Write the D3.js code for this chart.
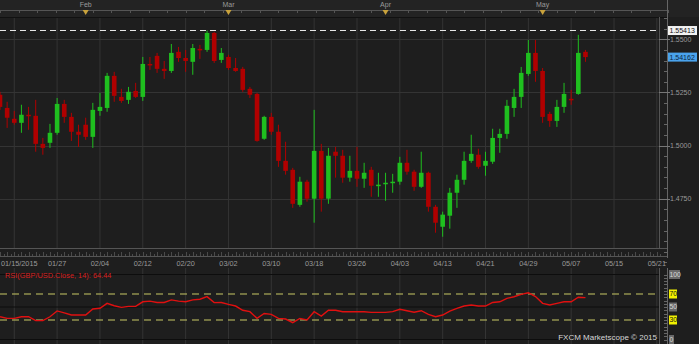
<!DOCTYPE html>
<html>
<head>
<meta charset="utf-8">
<script src="https://cdn.jsdelivr.net/npm/d3@7"></script>
<style>
  html, body { margin: 0; padding: 0; background: #1e1e1e; }
  svg { display: block; }
</style>
</head>
<body>
<svg id="chart"></svg>
<script>
// GBP/USD daily candles, 01/13/2015 - 05/11/2015
const opens = [1.5239,1.5177,1.5126,1.5107,1.5145,1.5140,1.5008,1.5013,1.5060,1.5196,
  1.5135,1.5065,1.5098,1.5041,1.5163,1.5177,1.5328,1.5229,1.5215,1.5257,
  1.5229,1.5384,1.5422,1.5361,1.5351,1.5441,1.5412,1.5394,1.5455,1.5450,
  1.5530,1.5403,1.5417,1.5365,1.5361,1.5267,1.5243,1.5032,1.5135,1.5065,
  1.4928,1.4886,1.4721,1.4830,1.4750,1.4975,1.4750,1.4971,1.4952,1.4849,
  1.4881,1.4844,1.4886,1.4811,1.4820,1.4825,1.4830,1.4919,1.4877,1.4806,
  1.4872,1.4712,1.4618,1.4670,1.4778,1.4839,1.4928,1.4957,1.4905,1.4924,
  1.5036,1.5055,1.5177,1.5229,1.5337,1.5436,1.5351,1.5149,1.5116,1.5182,
  1.5220,1.5243,1.5441];
const highs = [1.5253,1.5206,1.5163,1.5192,1.5182,1.5215,1.5036,1.5102,1.5224,1.5215,
  1.5154,1.5098,1.5131,1.5201,1.5248,1.5342,1.5347,1.5267,1.5276,1.5295,
  1.5417,1.5417,1.5436,1.5398,1.5478,1.5464,1.5450,1.5478,1.5474,1.5541,
  1.5535,1.5459,1.5427,1.5412,1.5370,1.5276,1.5248,1.5140,1.5154,1.5098,
  1.5018,1.4895,1.4853,1.4839,1.5168,1.5008,1.4989,1.4994,1.4980,1.4952,
  1.4994,1.4919,1.4900,1.4872,1.4872,1.4867,1.4947,1.4980,1.4886,1.4971,
  1.4877,1.4721,1.4689,1.4801,1.4863,1.4971,1.5051,1.4985,1.4971,1.5079,
  1.5079,1.5215,1.5267,1.5370,1.5497,1.5497,1.5365,1.5159,1.5215,1.5295,
  1.5262,1.5521,1.5450];
const lows = [1.5168,1.5083,1.5098,1.5060,1.5074,1.4971,1.4957,1.4989,1.5051,1.5107,
  1.5022,1.4994,1.5027,1.4989,1.5140,1.5159,1.5206,1.5201,1.5196,1.5224,
  1.5210,1.5356,1.5342,1.5314,1.5342,1.5394,1.5347,1.5333,1.5408,1.5441,
  1.5389,1.5389,1.5356,1.5347,1.5253,1.5224,1.5018,1.5027,1.5051,1.4900,
  1.4863,1.4707,1.4712,1.4736,1.4637,1.4689,1.4726,1.4849,1.4825,1.4830,
  1.4806,1.4801,1.4759,1.4759,1.4740,1.4778,1.4816,1.4863,1.4787,1.4801,
  1.4689,1.4590,1.4571,1.4609,1.4707,1.4816,1.4919,1.4891,1.4858,1.4914,
  1.4966,1.5032,1.5135,1.5177,1.5328,1.5300,1.5107,1.5088,1.5088,1.5154,
  1.5192,1.5239,1.5394];
const closes = [1.5182,1.5131,1.5107,1.5145,1.5140,1.5008,1.4989,1.5060,1.5196,1.5135,
  1.5065,1.5051,1.5041,1.5168,1.5182,1.5328,1.5234,1.5210,1.5253,1.5229,
  1.5384,1.5380,1.5361,1.5351,1.5436,1.5412,1.5398,1.5459,1.5450,1.5530,
  1.5398,1.5436,1.5365,1.5351,1.5262,1.5239,1.5022,1.5135,1.5065,1.4928,
  1.4881,1.4726,1.4830,1.4750,1.4975,1.4750,1.4952,1.4952,1.4849,1.4881,
  1.4844,1.4872,1.4811,1.4816,1.4825,1.4830,1.4919,1.4877,1.4806,1.4872,
  1.4712,1.4637,1.4675,1.4778,1.4839,1.4928,1.4961,1.4900,1.4928,1.5036,
  1.5055,1.5187,1.5229,1.5342,1.5436,1.5351,1.5135,1.5116,1.5182,1.5243,
  1.5215,1.5436,1.54162];

// RSI(14) on close
const rsiValues = [35,32.5,32.5,35,35,29,29,35,44,41,
  37.7,37.7,37.7,47,48,55.6,52,49.5,51,51,
  58,59,57,57,61,59,58,61,62,66,
  56.7,57,54,51.5,45,42.8,32.5,40,38.7,32.5,
  31.5,26,32.5,30,42.8,36,45,45,42.8,42.8,
  42.8,42.8,41.8,41.8,41.8,42.8,46.4,44.3,42,44.3,
  38.7,35,37.7,43.8,48,51.5,53,51.5,51.5,57,
  58,63.3,65.8,69.5,72,66,55.6,53,55.6,58,
  58,65,64.44];

// bottom axis labels and the bar they sit on
const dateLabels = ["01/15/2015","01/27","02/04","02/12","02/20","03/02","03/10","03/18",
  "03/26","04/03","04/13","04/21","04/29","05/07","05/15","05/21"];
const dateLabelIdx = [2,8,14,20,26,32,38,44,50,56,62,68,74,80,86,92];

// month markers along the top
const monthLabels = ["Feb","Mar","Apr","May"];
const monthIdx = [12,32,54,76];

const priceTicks = [1.4750,1.5000,1.5250,1.5500];
const highLine = 1.55413;
const lastPrice = 1.54162;
const rsiLevels = [100,70,50,30,0];

const width = 699, height = 344;
const svg = d3.select("#chart").attr("width", width).attr("height", height);

const plotLeft = 0, plotRight = 659, plotTop = 17, plotBottom = 248;
const axisX = 667;
const font = "'Liberation Sans', Arial, sans-serif";
const textGray = "#9a9a9a";
const gridColor = "#343434";
const green = "#1fbf1f", red = "#b00000";

const x = d3.scaleLinear().domain([0, 92.3]).range([plotLeft, plotRight]);
const y = d3.scaleLinear().domain([1.4750, 1.5500]).range([198.7, 39.3]);
const yr = d3.scaleLinear().domain([0, 100]).range([339.5, 274.5]);

// backgrounds
svg.append("rect").attr("width", width).attr("height", height).attr("fill", "#1e1e1e");
svg.append("rect").attr("x", 0).attr("y", 0).attr("width", width).attr("height", plotTop)
  .attr("fill", "#232323");

// vertical grid lines in both panes
const vgrid = svg.append("g");
dateLabelIdx.forEach(i => {
  vgrid.append("line").attr("x1", x(i)).attr("x2", x(i))
    .attr("y1", plotTop).attr("y2", plotBottom).attr("stroke", gridColor);
  vgrid.append("line").attr("x1", x(i)).attr("x2", x(i))
    .attr("y1", 268).attr("y2", height).attr("stroke", gridColor);
});

// horizontal grid in price pane
svg.append("g").selectAll("line").data(priceTicks).join("line")
  .attr("x1", plotLeft).attr("x2", plotRight)
  .attr("y1", d => Math.round(y(d)) + 0.5).attr("y2", d => Math.round(y(d)) + 0.5)
  .attr("stroke", gridColor);

// frame of the price pane
svg.append("line").attr("x1", 0).attr("x2", axisX).attr("y1", plotTop + 0.5).attr("y2", plotTop + 0.5)
  .attr("stroke", "#111");
svg.append("line").attr("x1", 0).attr("x2", axisX).attr("y1", plotBottom + 0.5).attr("y2", plotBottom + 0.5)
  .attr("stroke", "#555");
svg.append("line").attr("x1", plotRight + 0.5).attr("x2", plotRight + 0.5).attr("y1", plotTop).attr("y2", plotBottom)
  .attr("stroke", "#555");

// right price axis
const yAxis = svg.append("g").attr("transform", `translate(${axisX},0)`);
yAxis.append("line").attr("x1", 0.5).attr("x2", 0.5).attr("y1", 0).attr("y2", 258).attr("stroke", "#666");
yAxis.selectAll(".minor").data(d3.range(1.445, 1.5601, 0.005)).join("line")
  .attr("class", "minor")
  .attr("x1", -3).attr("x2", 0)
  .attr("y1", d => Math.round(y(d)) + 0.5).attr("y2", d => Math.round(y(d)) + 0.5)
  .attr("stroke", "#666");
yAxis.selectAll(".major").data(priceTicks).join("line")
  .attr("class", "major")
  .attr("x1", -8).attr("x2", 3)
  .attr("y1", d => Math.round(y(d)) + 0.5).attr("y2", d => Math.round(y(d)) + 0.5)
  .attr("stroke", "#777");
yAxis.selectAll("text").data(priceTicks).join("text")
  .attr("x", 3).attr("y", d => y(d)).attr("dy", "0.35em")
  .attr("fill", textGray).attr("font-size", 7).attr("font-family", font)
  .text(d => d.toFixed(4));

// top strip with month markers
svg.append("line").attr("x1", 0).attr("x2", axisX).attr("y1", 10.5).attr("y2", 10.5).attr("stroke", "#555");
svg.append("g").selectAll("line").data(d3.range(0, 95, 2.6)).join("line")
  .attr("x1", d => Math.round(x(d)) + 0.5).attr("x2", d => Math.round(x(d)) + 0.5)
  .attr("y1", 10).attr("y2", 13).attr("stroke", "#555");
svg.append("g").selectAll("path").data(monthIdx).join("path")
  .attr("d", d => `M${x(d) - 3},10 L${x(d) + 3},10 L${x(d)},15 Z`)
  .attr("fill", "#c9a23c");
svg.append("g").selectAll("text").data(monthLabels).join("text")
  .attr("x", (d, i) => x(monthIdx[i])).attr("y", 5).attr("dy", "0.35em")
  .attr("text-anchor", "middle").attr("fill", textGray)
  .attr("font-size", 7).attr("font-family", font).text(d => d);

// bottom date strip
svg.append("line").attr("x1", 0).attr("x2", axisX).attr("y1", 256.5).attr("y2", 256.5).attr("stroke", "#555");
svg.append("g").selectAll("line").data(d3.range(0, 93, 0.5)).join("line")
  .attr("x1", d => Math.round(x(d)) + 0.5).attr("x2", d => Math.round(x(d)) + 0.5)
  .attr("y1", d => Number.isInteger(d) ? 252 : 254).attr("y2", 256).attr("stroke", "#4a4a4a");
svg.append("g").selectAll("text").data(dateLabels).join("text")
  .attr("x", (d, i) => i === 0 ? 1 : x(dateLabelIdx[i]))
  .attr("y", 263).attr("dy", "0.35em")
  .attr("text-anchor", (d, i) => i === 0 ? "start" : "middle")
  .attr("fill", textGray).attr("font-size", 7.3).attr("font-family", font).text(d => d);

// candles
const candles = closes.map((c, i) => ({ i, o: opens[i], h: highs[i], l: lows[i], c }));
const bodyW = 4.6;
const cg = svg.append("g");
cg.selectAll("line").data(candles).join("line")
  .attr("x1", d => x(d.i)).attr("x2", d => x(d.i))
  .attr("y1", d => y(d.h)).attr("y2", d => y(d.l))
  .attr("stroke", d => d.c >= d.o ? green : red).attr("stroke-width", 1);
cg.selectAll("rect").data(candles).join("rect")
  .attr("x", d => x(d.i) - bodyW / 2)
  .attr("y", d => y(Math.max(d.o, d.c)))
  .attr("width", bodyW)
  .attr("height", d => Math.max(1.5, Math.abs(y(d.o) - y(d.c))))
  .attr("fill", d => d.c >= d.o ? green : red);

// dashed high line and price labels
svg.append("line").attr("x1", 0).attr("x2", 657)
  .attr("y1", y(highLine)).attr("y2", y(highLine))
  .attr("stroke", "#e6e6e6").attr("stroke-width", 1.2).attr("stroke-dasharray", "6,4");
const tagW = 29;
svg.append("rect").attr("x", 668).attr("y", y(highLine) - 4.5).attr("width", tagW).attr("height", 9)
  .attr("fill", "#f2f2f2");
svg.append("text").attr("x", 669.5).attr("y", y(highLine)).attr("dy", "0.35em")
  .attr("fill", "#111").attr("font-size", 7).attr("font-family", font).text(highLine.toFixed(5));
svg.append("rect").attr("x", 668).attr("y", y(lastPrice) - 4.5).attr("width", tagW).attr("height", 9)
  .attr("fill", "#4aa3ec");
svg.append("text").attr("x", 669.5).attr("y", y(lastPrice)).attr("dy", "0.35em")
  .attr("fill", "#0a2540").attr("font-size", 7).attr("font-family", font).text(lastPrice.toFixed(5));

// RSI pane
const rg = svg.append("g");
rg.append("line").attr("x1", 0).attr("x2", plotRight).attr("y1", yr(100)).attr("y2", yr(100)).attr("stroke", "#0d0d0d");
rg.append("line").attr("x1", 0).attr("x2", plotRight).attr("y1", yr(50)).attr("y2", yr(50)).attr("stroke", "#0d0d0d");
rg.append("line").attr("x1", 0).attr("x2", plotRight).attr("y1", yr(0)).attr("y2", yr(0)).attr("stroke", "#0d0d0d");
[70, 30].forEach(v => {
  rg.append("line").attr("x1", 0).attr("x2", 657).attr("y1", yr(v)).attr("y2", yr(v))
    .attr("stroke", "#c8c864").attr("stroke-width", 1.1).attr("stroke-dasharray", "7,5");
});
rg.append("line").attr("x1", plotRight + 0.5).attr("x2", plotRight + 0.5).attr("y1", 268).attr("y2", height).attr("stroke", "#555");
rg.append("line").attr("x1", axisX + 0.5).attr("x2", axisX + 0.5).attr("y1", 268).attr("y2", height).attr("stroke", "#666");
rg.selectAll(".rt").data(d3.range(0, 101, 5)).join("line")
  .attr("class", "rt")
  .attr("x1", axisX - 3).attr("x2", axisX)
  .attr("y1", d => Math.round(yr(d)) + 0.5).attr("y2", d => Math.round(yr(d)) + 0.5)
  .attr("stroke", "#666");

const rsiLine = d3.line().x((d, i) => x(i)).y(d => yr(d));
rg.append("path").datum(rsiValues).attr("d", rsiLine)
  .attr("fill", "none").attr("stroke", "#e01010").attr("stroke-width", 1.4);

rg.append("text").attr("x", 5).attr("y", 275).attr("dy", "0.35em")
  .attr("fill", "#d82020").attr("font-size", 7.4).attr("font-family", font)
  .text("RSI(GBP/USD.Close, 14): " + rsiValues[rsiValues.length - 1].toFixed(2));

// RSI level tags
const lvl = rg.selectAll(".lvl").data(rsiLevels).join("g")
  .attr("class", "lvl")
  .attr("transform", d => `translate(669,${yr(d)})`);
lvl.append("rect").attr("x", 0).attr("y", -4.5)
  .attr("width", d => d === 100 ? 11 : (d === 0 ? 5 : 8)).attr("height", 9)
  .attr("fill", d => (d === 70 || d === 30) ? "#f2f200" : "#6a6a6a");
lvl.append("text").attr("x", 0.5).attr("dy", "0.35em")
  .attr("fill", d => (d === 70 || d === 30) ? "#111" : "#d8d8d8")
  .attr("font-size", 6.8).attr("font-family", font).text(d => d);

// watermark
svg.append("text").attr("x", 657).attr("y", 339.5).attr("text-anchor", "end")
  .attr("fill", "#d8d8d8").attr("font-size", 8).attr("font-family", font)
  .text("FXCM Marketscope © 2015");
</script>
</body>
</html>
